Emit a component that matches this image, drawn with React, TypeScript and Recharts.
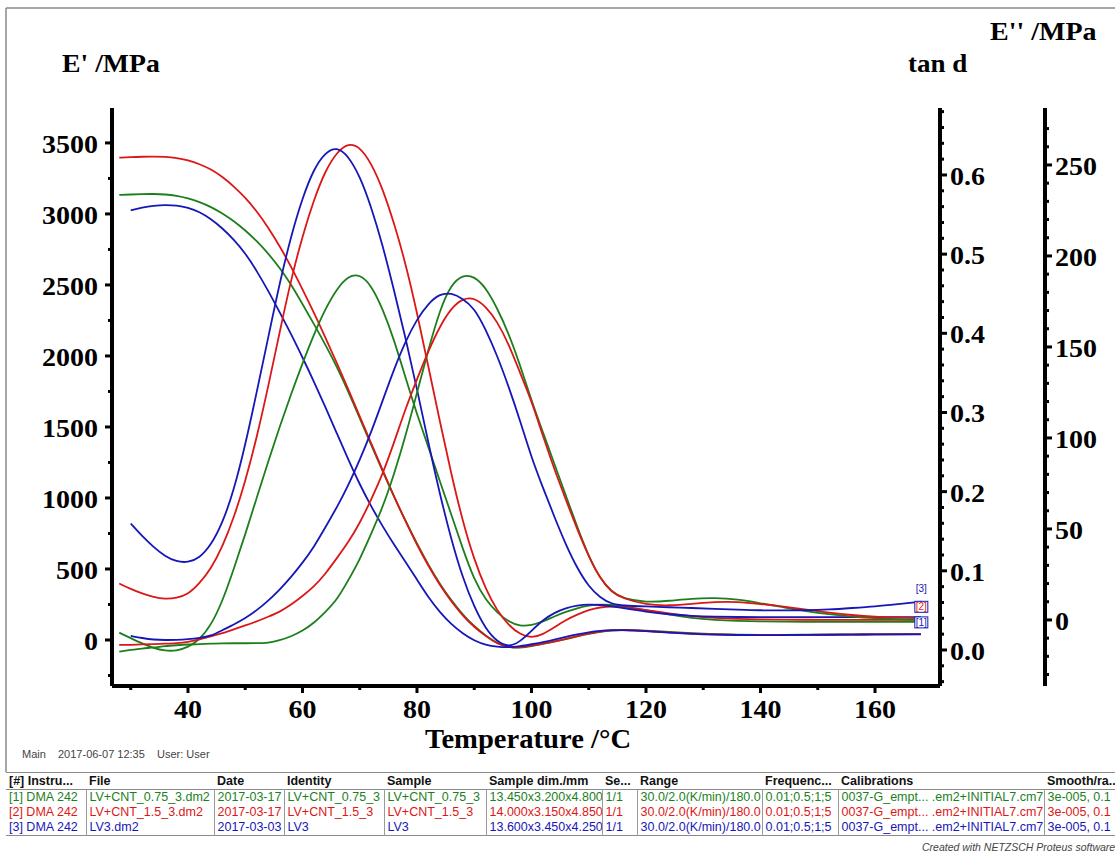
import React from "react";
import { LineChart, Line, XAxis, YAxis } from "recharts";

// temperature grid, °C
const temps = [
  28, 30, 32, 34, 36, 38, 40, 42, 44, 46,
  48, 50, 52, 54, 56, 58, 60, 62, 64, 66,
  68, 70, 72, 74, 76, 78, 80, 82, 84, 86,
  88, 90, 92, 94, 96, 98, 100, 102, 104, 106,
  108, 110, 112, 114, 116, 120, 124, 128, 132, 136,
  140, 144, 148, 152, 156, 160, 164, 168,
];

// E' /MPa (left axis)
const storageGreen = [
  3134, 3137, 3140, 3141, 3138, 3128, 3110, 3085, 3050, 3005,
  2950, 2885, 2810, 2722, 2622, 2505, 2365, 2225, 2080, 1925,
  1750, 1562, 1373, 1188, 1008, 838, 678, 528, 393, 278,
  178, 96, 30, -24, -52, -56, -44, -28, -12, 6,
  25, 43, 58, 67, 70, 66, 57, 48, 41, 37,
  36, 36, 37, 38, 39, 40, 41, 42,
];
const storageRed = [
  3396, 3400, 3403, 3404, 3402, 3395, 3378, 3352, 3315, 3262,
  3195, 3115, 3020, 2905, 2775, 2630, 2470, 2305, 2130, 1950,
  1765, 1575, 1385, 1195, 1010, 835, 670, 520, 385, 270,
  170, 90, 28, -28, -52, -52, -40, -25, -10, 8,
  27, 45, 60, 68, 70, 64, 54, 45, 39, 36,
  35, 35, 36, 37, 38, 39, 40, 41,
];
const storageBlue = [
  null, 3025, 3045, 3058, 3064, 3060, 3045, 3015, 2965, 2900,
  2820, 2725, 2600, 2460, 2310, 2155, 1990, 1820, 1640, 1455,
  1270, 1095, 940, 800, 670, 550, 425, 300, 195, 110,
  45, -5, -35, -48, -52, -45, -30, -15, 3, 22,
  40, 55, 65, 70, 70, 63, 52, 43, 37, 35,
  34, 35, 36, 37, 38, 39, 40, 40,
];

// E'' /MPa (outer right axis)
const lossGreen = [
  -7, -10, -13, -15.5, -17, -17, -15, -11, -3, 10,
  28, 47, 67, 87, 106, 124, 141, 157, 171, 182,
  189, 190, 184, 171, 154, 133, 113, 95, 76, 58,
  39, 22, 11, 4, -1, -3.5, -3, -1, 2, 4.5,
  6.5, 8, 8.5, 8.3, 7.5, 5.5, 3, 1, 0, -0.5,
  -0.8, -1, -1, -1, -1, -1, -1, -1,
];
const lossRed = [
  20, 17, 14.5, 12.5, 11.5, 12, 14, 20, 28, 40,
  56, 76, 100, 128, 158, 187, 211, 231, 247, 257,
  262, 260, 251, 237, 218, 196, 169, 139, 109, 80,
  54, 33, 17, 5, -3, -8, -10, -8, -4, 0,
  3, 5.5, 7, 7.5, 7, 5.5, 3.5, 2, 1, 0.5,
  0.3, 0.2, 0.1, 0, 0, 0, 0, 0,
];
const lossBlue = [
  null, 53, 46, 40, 35, 32, 31.5, 34, 41, 53,
  71, 96, 125, 155, 185, 211, 232, 248, 257, 260,
  255, 244, 227, 206, 181, 155, 127, 97, 69, 44,
  23, 7, -5, -12, -15, -12, -6, 0, 4, 6.5,
  8, 8.5, 8.3, 7.5, 6.5, 4.5, 3, 2.2, 1.8, 1.6,
  1.5, 1.5, 1.5, 1.5, 1.5, 1.5, 1.5, 1.5,
];

// tan d (inner right axis)
const tanGreen = [
  -0.002, 0, 0.002, 0.003, 0.005, 0.006, 0.007, 0.0075, 0.008, 0.0085,
  0.0085, 0.0085, 0.0085, 0.009, 0.012, 0.017, 0.024, 0.034, 0.048, 0.063,
  0.088, 0.114, 0.147, 0.18, 0.222, 0.27, 0.325, 0.38, 0.43, 0.462,
  0.474, 0.472, 0.458, 0.432, 0.4, 0.36, 0.315, 0.275, 0.235, 0.195,
  0.155, 0.118, 0.09, 0.073, 0.065, 0.06, 0.062, 0.065, 0.066, 0.064,
  0.059, 0.054, 0.049, 0.045, 0.042, 0.04, 0.039, 0.038,
];
const tanRed = [
  0.0063, 0.0065, 0.007, 0.0075, 0.008, 0.0085, 0.01, 0.0135, 0.017, 0.021,
  0.026, 0.031, 0.036, 0.042, 0.048, 0.057, 0.068, 0.08, 0.096, 0.116,
  0.136, 0.16, 0.19, 0.222, 0.262, 0.305, 0.342, 0.378, 0.409, 0.432,
  0.444, 0.445, 0.434, 0.415, 0.387, 0.35, 0.315, 0.27, 0.228, 0.19,
  0.152, 0.118, 0.09, 0.073, 0.065, 0.057, 0.056, 0.058, 0.061, 0.061,
  0.058, 0.055, 0.051, 0.047, 0.044, 0.042, 0.041, 0.04,
];
const tanBlue = [
  null, 0.0177, 0.015, 0.013, 0.0125, 0.0127, 0.0135, 0.015, 0.0175, 0.025,
  0.032, 0.04, 0.05, 0.062, 0.076, 0.092, 0.11, 0.13, 0.155, 0.18,
  0.208, 0.24, 0.275, 0.315, 0.355, 0.39, 0.418, 0.438, 0.45, 0.451,
  0.444, 0.432, 0.405, 0.372, 0.333, 0.29, 0.243, 0.205, 0.168, 0.133,
  0.103, 0.08, 0.066, 0.058, 0.056, 0.055, 0.054, 0.053, 0.052, 0.051,
  0.05, 0.05, 0.05, 0.051, 0.053, 0.055, 0.058, 0.061,
];

// axis ticks (minor + major) and labelled majors
const xTicks = [30, 40, 50, 60, 70, 80, 90, 100, 110, 120, 130, 140, 150, 160];
const xMajors = [40, 60, 80, 100, 120, 140, 160];
const eTicks = [-250, 0, 250, 500, 750, 1000, 1250, 1500, 1750, 2000, 2250, 2500, 2750, 3000, 3250, 3500];
const eMajors = [0, 500, 1000, 1500, 2000, 2500, 3000, 3500];
const tanTicks = [
  -0.04, -0.02, 0, 0.02, 0.04, 0.06, 0.08, 0.1, 0.12, 0.14, 0.16, 0.18, 0.2, 0.22, 0.24, 0.26, 0.28,
  0.3, 0.32, 0.34, 0.36, 0.38, 0.4, 0.42, 0.44, 0.46, 0.48, 0.5, 0.52, 0.54, 0.56, 0.58, 0.6, 0.62,
  0.64, 0.66, 0.68,
];
const tanMajors = [0, 0.1, 0.2, 0.3, 0.4, 0.5, 0.6];
const lossTicks = [
  -30, -20, -10, 0, 10, 20, 30, 40, 50, 60, 70, 80, 90, 100, 110, 120, 130, 140, 150, 160, 170,
  180, 190, 200, 210, 220, 230, 240, 250, 260, 270,
];
const lossMajors = [0, 50, 100, 150, 200, 250];

const tableHeader = [
  "[#] Instru...", "File", "Date", "Identity", "Sample", "Sample dim./mm", "Se...", "Range",
  "Frequenc...", "Calibrations", "Smooth/ra..",
];
const tableGreen = [
  "[1] DMA 242", "LV+CNT_0.75_3.dm2", "2017-03-17", "LV+CNT_0.75_3", "LV+CNT_0.75_3",
  "13.450x3.200x4.800", "1/1", "30.0/2.0(K/min)/180.0", "0.01;0.5;1;5",
  "0037-G_empt... .em2+INITIAL7.cm7", "3e-005, 0.1",
];
const tableRed = [
  "[2] DMA 242", "LV+CNT_1.5_3.dm2", "2017-03-17", "LV+CNT_1.5_3", "LV+CNT_1.5_3",
  "14.000x3.150x4.850", "1/1", "30.0/2.0(K/min)/180.0", "0.01;0.5;1;5",
  "0037-G_empt... .em2+INITIAL7.cm7", "3e-005, 0.1",
];
const tableBlue = [
  "[3] DMA 242", "LV3.dm2", "2017-03-03", "LV3", "LV3",
  "13.600x3.450x4.250", "1/1", "30.0/2.0(K/min)/180.0", "0.01;0.5;1;5",
  "0037-G_empt... .em2+INITIAL7.cm7", "3e-005, 0.1",
];
const colWidths = [80, 128, 70, 100, 102, 116, 35, 125, 76, 206, 90];

const GREEN = "#1c7f1c";
const RED = "#dc1717";
const BLUE = "#1717b8";
const SERIF = '"Liberation Serif", "Times New Roman", serif';
const SANS = '"Liberation Sans", Arial, sans-serif';

const rows = temps.map((t, i) => ({
  t,
  eg: storageGreen[i],
  er: storageRed[i],
  eb: storageBlue[i],
  lg: lossGreen[i],
  lr: lossRed[i],
  lb: lossBlue[i],
  dg: tanGreen[i],
  dr: tanRed[i],
  db: tanBlue[i],
}));

type Side = "left" | "right" | "bottom";

function makeTick(side: Side, majors: number[], fmt: (v: number) => string) {
  return (props: any) => {
    const { x, y, payload } = props;
    const v = payload.value as number;
    const major = majors.some((m) => Math.abs(m - v) < 1e-6);
    const len = major ? 7 : 4;
    const textStyle = { fontFamily: SERIF, fontWeight: 700, fontSize: 25, fill: "#000" };
    if (side === "left") {
      return (
        <g>
          <line x1={x} y1={y} x2={x - len} y2={y} stroke="#000" strokeWidth={3} />
          {major && (
            <text transform={`translate(${x - 14},${y + 10}) scale(1.12,1)`} textAnchor="end" style={textStyle}>
              {fmt(v)}
            </text>
          )}
        </g>
      );
    }
    if (side === "right") {
      return (
        <g>
          <line x1={x} y1={y} x2={x + len} y2={y} stroke="#000" strokeWidth={3} />
          {major && (
            <text transform={`translate(${x + 10},${y + 10}) scale(1.12,1)`} textAnchor="start" style={textStyle}>
              {fmt(v)}
            </text>
          )}
        </g>
      );
    }
    return (
      <g>
        <line x1={x} y1={y} x2={x} y2={y + len} stroke="#000" strokeWidth={3} />
        {major && (
          <text transform={`translate(${x},${y + 32}) scale(1.12,1)`} textAnchor="middle" style={textStyle}>
            {fmt(v)}
          </text>
        )}
      </g>
    );
  };
}

// small run markers at the right end of the tan d curves
function endLabel(text: string, color: string, dy: number, boxed: boolean) {
  return (props: any) => {
    const { x, y, index } = props;
    if (index !== temps.length - 1) return <g />;
    return (
      <g>
        {boxed && <rect x={x - 6} y={y + dy - 9} width={13} height={11} fill="#fff" stroke={BLUE} strokeWidth={1} />}
        <text x={x + 0.5} y={y + dy} textAnchor="middle" style={{ fontFamily: SANS, fontSize: 10, fill: color }}>
          {text}
        </text>
      </g>
    );
  };
}

const axisLine = { stroke: "#000", strokeWidth: 4 };

function DataTable() {
  const cell = (first: boolean): React.CSSProperties => ({
    padding: "0 3px",
    borderLeft: first ? "none" : "1px solid #9a9a9a",
    whiteSpace: "nowrap",
    overflow: "hidden",
    height: 15,
    lineHeight: "15px",
  });
  const body = [
    { color: GREEN, cells: tableGreen },
    { color: RED, cells: tableRed },
    { color: BLUE, cells: tableBlue },
  ];
  return (
    <table
      style={{
        position: "absolute",
        left: 6,
        top: 772,
        width: colWidths.reduce((a, b) => a + b, 0),
        borderCollapse: "collapse",
        tableLayout: "fixed",
        fontFamily: SANS,
        fontSize: 12.5,
        borderTop: "1px solid #8a8a8a",
      }}
    >
      <colgroup>
        {colWidths.map((w, i) => (
          <col key={i} style={{ width: w }} />
        ))}
      </colgroup>
      <thead>
        <tr style={{ borderBottom: "1px solid #8a8a8a" }}>
          {tableHeader.map((h, i) => (
            <th
              key={i}
              style={{ textAlign: "left", fontWeight: 700, padding: "0 3px", height: 16, whiteSpace: "nowrap", overflow: "hidden", color: "#111" }}
            >
              {h}
            </th>
          ))}
        </tr>
      </thead>
      <tbody style={{ borderBottom: "1px solid #8a8a8a" }}>
        {body.map((r, ri) => (
          <tr key={ri} style={{ color: r.color }}>
            {r.cells.map((c, ci) => (
              <td key={ci} style={cell(ci === 0)}>
                {c}
              </td>
            ))}
          </tr>
        ))}
      </tbody>
    </table>
  );
}

export default function App() {
  const lineProps = { dot: false, strokeWidth: 1.8, isAnimationActive: false, type: "basis" as const };
  return (
    <div style={{ position: "absolute", left: 0, top: 0, width: 1115, height: 853, overflow: "hidden", background: "#fff" }}>
      <LineChart
        width={1115}
        height={770}
        data={rows}
        margin={{ top: 108, right: 0, bottom: 0, left: 0 }}
        style={{ position: "absolute", left: 0, top: 0 }}
      >
        <XAxis
          dataKey="t"
          type="number"
          domain={[26.73, 171.35]}
          allowDataOverflow
          ticks={xTicks}
          interval={0}
          tickSize={0}
          tickMargin={0}
          height={84}
          axisLine={axisLine}
          tickLine={false}
          tick={makeTick("bottom", xMajors, (v) => String(v))}
        />
        <YAxis
          yAxisId="a_e"
          orientation="left"
          type="number"
          domain={[-324, 3746]}
          allowDataOverflow
          ticks={eTicks}
          interval={0}
          width={112}
          tickSize={0}
          tickMargin={0}
          axisLine={axisLine}
          tickLine={false}
          tick={makeTick("left", eMajors, (v) => String(v))}
        />
        <YAxis
          yAxisId="l_loss"
          orientation="right"
          type="number"
          domain={[-36.3, 281.3]}
          allowDataOverflow
          ticks={lossTicks}
          interval={0}
          width={70}
          tickSize={0}
          tickMargin={0}
          axisLine={axisLine}
          tickLine={false}
          tick={makeTick("right", lossMajors, (v) => String(v))}
        />
        <YAxis
          yAxisId="d_tan"
          orientation="right"
          type="number"
          domain={[-0.0455, 0.6846]}
          allowDataOverflow
          ticks={tanTicks}
          interval={0}
          width={105}
          tickSize={0}
          tickMargin={0}
          axisLine={axisLine}
          tickLine={false}
          tick={makeTick("right", tanMajors, (v) => v.toFixed(1))}
        />

        <Line yAxisId="a_e" dataKey="eg" stroke={GREEN} {...lineProps} />
        <Line yAxisId="a_e" dataKey="er" stroke={RED} {...lineProps} />
        <Line yAxisId="a_e" dataKey="eb" stroke={BLUE} {...lineProps} />

        <Line yAxisId="l_loss" dataKey="lg" stroke={GREEN} {...lineProps} />
        <Line yAxisId="l_loss" dataKey="lr" stroke={RED} {...lineProps} />
        <Line yAxisId="l_loss" dataKey="lb" stroke={BLUE} {...lineProps} />

        <Line yAxisId="d_tan" dataKey="dg" stroke={GREEN} {...lineProps} label={endLabel("[1]", BLUE, 6, true)} />
        <Line yAxisId="d_tan" dataKey="dr" stroke={RED} {...lineProps} label={endLabel("[2]", RED, -8, true)} />
        <Line yAxisId="d_tan" dataKey="db" stroke={BLUE} {...lineProps} label={endLabel("[3]", BLUE, -10, false)} />
      </LineChart>

      <svg width={1115} height={853} style={{ position: "absolute", left: 0, top: 0, pointerEvents: "none" }}>
        <line x1={6} y1={8} x2={1115} y2={8} stroke="#8a8a8a" strokeWidth={1.5} />
        <line x1={6} y1={8} x2={6} y2={772} stroke="#8a8a8a" strokeWidth={1.5} />
        <g style={{ fontFamily: SERIF, fontWeight: 700, fontSize: 25, fill: "#000" }}>
          <text transform="translate(62,72) scale(1.11,1)">E' /MPa</text>
          <text transform="translate(908,72) scale(1.08,1)">tan d</text>
          <text transform="translate(990,40) scale(1.12,1)">E'' /MPa</text>
          <text transform="translate(528,748) scale(1.06,1)" textAnchor="middle" style={{ fontSize: 27 }}>
            Temperature /°C
          </text>
        </g>
        <g style={{ fontFamily: SANS, fontSize: 11, fill: "#444" }}>
          <text x={22} y={758}>Main</text>
          <text x={58} y={758}>2017-06-07 12:35</text>
          <text x={157} y={758}>User: User</text>
        </g>
        <text x={922} y={851} style={{ fontFamily: SANS, fontSize: 10.5, fontStyle: "italic", fill: "#444" }}>
          Created with NETZSCH Proteus software
        </text>
      </svg>

      <DataTable />
    </div>
  );
}
